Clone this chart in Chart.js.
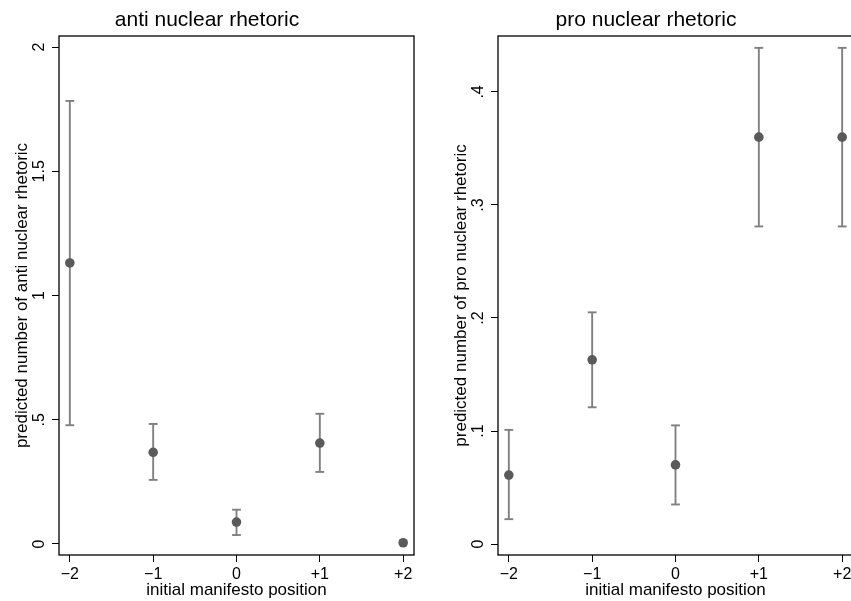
<!DOCTYPE html>
<html>
<head>
<meta charset="utf-8">
<script src="https://cdn.jsdelivr.net/npm/chart.js@4.4.1/dist/chart.umd.min.js"></script>
<style>
  html, body { margin: 0; padding: 0; background: #fff; }
  body { width: 851px; height: 601px; overflow: hidden; position: relative; }
  .panel { position: absolute; top: 0; width: 425px; height: 601px; }
</style>
</head>
<body>
<div class="panel" style="left:0px"><canvas id="antiChart" width="425" height="601"></canvas></div>
<div class="panel" style="left:439px"><canvas id="proChart" width="425" height="601"></canvas></div>
<script>
// Data
const positions = [-2, -1, 0, 1, 2];
const xTickLabels = ["\u22122", "\u22121", "0", "+1", "+2"];

const antiEst = [1.131, 0.369, 0.088, 0.406, 0.005];
const antiLo = [0.478, 0.258, 0.036, 0.290, null];
const antiHi = [1.783, 0.483, 0.138, 0.524, null];
const antiTicks = [0, 0.5, 1, 1.5, 2];
const antiTickLabels = ["0", ".5", "1", "1.5", "2"];

const proEst = [0.061, 0.163, 0.070, 0.360, 0.360];
const proLo = [0.022, 0.121, 0.035, 0.281, 0.281];
const proHi = [0.101, 0.205, 0.105, 0.439, 0.439];
const proTicks = [0, 0.1, 0.2, 0.3, 0.4];
const proTickLabels = ["0", ".1", ".2", ".3", ".4"];

// Styles
const FONT = '"Liberation Sans", Arial, Helvetica, sans-serif';
Chart.defaults.font.family = FONT;
Chart.defaults.color = "#000";

const markerColor = "#5a5a5a";
const barColor = "#808080";

// frame around plot region + rotated y tick labels
const framePlugin = {
  id: "frame",
  afterDraw(chart) {
    const { ctx, chartArea: a } = chart;
    ctx.save();
    ctx.strokeStyle = "#000";
    ctx.lineWidth = 1.3;
    ctx.strokeRect(a.left, a.top, a.right - a.left, a.bottom - a.top);

    const y = chart.scales.y;
    const labels = chart.options.plugins.frame.labels;
    ctx.fillStyle = "#000";
    ctx.font = "16px " + FONT;
    ctx.textAlign = "center";
    ctx.textBaseline = "alphabetic";
    y.ticks.forEach((t, i) => {
      ctx.save();
      ctx.translate(43.5, y.getPixelForValue(t.value));
      ctx.rotate(-Math.PI / 2);
      ctx.fillText(labels[i], 0, 0);
      ctx.restore();
    });
    ctx.restore();
  }
};

const makeChart = (id, title, yTitle, est, lo, hi, yTicks, yLabels, yMin, yMax) => {
  const datasets = [{
    data: positions.map((x, i) => ({ x: x, y: est[i] })),
    pointRadius: 4.8,
    pointBackgroundColor: markerColor,
    pointBorderWidth: 0,
    showLine: false
  }];

  positions.forEach((x, i) => {
    if (lo[i] === null) return;
    datasets.push({
      data: [{ x: x, y: lo[i] }, { x: x, y: hi[i] }],
      showLine: true,
      borderColor: barColor,
      borderWidth: 1.9,
      pointStyle: "line",
      pointRadius: 4.4,
      pointBorderColor: barColor,
      pointBorderWidth: 1.9
    });
  });

  return new Chart(document.getElementById(id), {
    type: "scatter",
    data: { datasets },
    options: {
      responsive: false,
      animation: false,
      layout: { padding: { left: 0, right: 11, top: 0, bottom: 0 } },
      plugins: {
        legend: { display: false },
        tooltip: { enabled: false },
        title: {
          display: true,
          text: title,
          color: "#000",
          font: { size: 21, weight: "normal" },
          padding: { top: 7.6, bottom: 3.2 }
        },
        frame: { labels: yLabels }
      },
      scales: {
        x: {
          type: "linear",
          min: -2.13,
          max: 2.13,
          afterBuildTicks: s => { s.ticks = positions.map(v => ({ value: v })); },
          afterFit: s => { s.height = 46; },
          ticks: {
            autoSkip: false,
            maxRotation: 0,
            padding: 2.5,
            color: "#000",
            font: { size: 16 },
            callback: (v) => xTickLabels[positions.indexOf(v)]
          },
          grid: { display: true, drawOnChartArea: false, drawTicks: true, tickLength: 7, color: "#000", lineWidth: 1 },
          border: { display: false },
          title: {
            display: true,
            text: "initial manifesto position",
            color: "#000",
            font: { size: 17 },
            padding: { top: 0, bottom: 0 }
          }
        },
        y: {
          type: "linear",
          min: yMin,
          max: yMax,
          afterBuildTicks: s => { s.ticks = yTicks.map(v => ({ value: v })); },
          afterFit: s => { s.width = 59; },
          ticks: { display: false },
          grid: { display: true, drawOnChartArea: false, drawTicks: true, tickLength: 7, color: "#000", lineWidth: 1 },
          border: { display: false },
          title: {
            display: true,
            text: yTitle,
            color: "#000",
            font: { size: 17 },
            padding: { top: 12, bottom: 0 }
          }
        }
      }
    },
    plugins: [framePlugin]
  });
};

makeChart("antiChart", "anti nuclear rhetoric", "predicted number of anti nuclear rhetoric",
  antiEst, antiLo, antiHi, antiTicks, antiTickLabels, -0.0443, 2.0443);
makeChart("proChart", "pro nuclear rhetoric", "predicted number of pro nuclear rhetoric",
  proEst, proLo, proHi, proTicks, proTickLabels, -0.0097, 0.4495);
</script>
</body>
</html>
